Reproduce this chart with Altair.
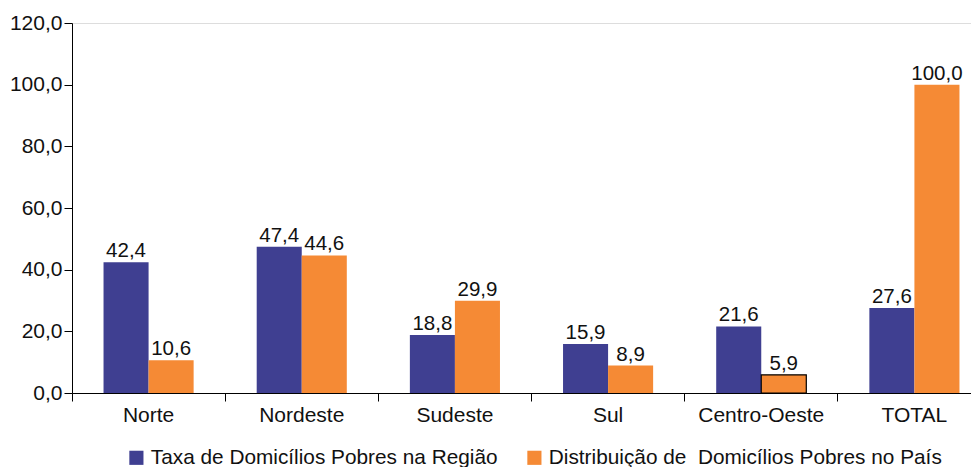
import altair as alt
import pandas as pd

regions = ["Norte", "Nordeste", "Sudeste", "Sul", "Centro-Oeste", "TOTAL"]
series_names = ["Taxa de Domicílios Pobres na Região", "Distribuição de\u00a0 Domicílios Pobres no País"]
taxa = [42.4, 47.4, 18.8, 15.9, 21.6, 27.6]
distrib = [10.6, 44.6, 29.9, 8.9, 5.9, 100.0]
colors = ["#3F3F91", "#F58A35"]

rows = []
for i, r in enumerate(regions):
    rows.append({"regiao": r, "serie": series_names[0], "valor": taxa[i], "ord": 0})
    rows.append({"regiao": r, "serie": series_names[1], "valor": distrib[i], "ord": 1})
df = pd.DataFrame(rows)
df["rotulo"] = df["valor"].map(lambda v: f"{v:.1f}".replace(".", ","))
df["outline"] = (df["regiao"] == "Centro-Oeste") & (df["ord"] == 1)

FONT = "Liberation Sans"

x = alt.X("regiao:N", sort=regions, title=None,
          scale=alt.Scale(paddingInner=0.0, paddingOuter=0.0, range=[0, 919]),
          axis=alt.Axis(labelAngle=0, labelFontSize=21, labelColor="#111", labelFont=FONT,
                        domainColor="#000", tickColor="#000", tickSize=8, bandPosition=0,
                        labelPadding=3))
xo = alt.XOffset("serie:N", sort=series_names,
                 scale=alt.Scale(paddingOuter=0.7, paddingInner=0.0))
y = alt.Y("valor:Q", title=None,
          scale=alt.Scale(domain=[0, 120]),
          axis=alt.Axis(values=[0, 20, 40, 60, 80, 100, 120], grid=False,
                        labelExpr="replace(format(datum.value, '.1f'), '.', ',')",
                        labelFontSize=21, labelColor="#111", labelFont=FONT,
                        domainColor="#000", tickColor="#000", tickSize=8, labelPadding=2))
color = alt.Color("serie:N", sort=series_names,
                  scale=alt.Scale(domain=series_names, range=colors),
                  legend=alt.Legend(title=None, orient="none", legendX=54, legendY=424,
                                    direction="horizontal",
                                    symbolType="square", symbolSize=200, symbolStrokeWidth=0,
                                    labelFontSize=20.8, labelFont=FONT, labelColor="#111",
                                    columnPadding=26, labelLimit=600))

bars = alt.Chart(df).mark_bar().encode(
    x=x, xOffset=xo, y=y, color=color,
    stroke=alt.condition("datum.outline", alt.value("#000"), alt.value(None)),
    strokeWidth=alt.condition("datum.outline", alt.value(1.2), alt.value(0)),
)
labels = alt.Chart(df).mark_text(baseline="alphabetic", dy=-5, fontSize=20.5, font=FONT, color="#111").encode(
    x=x, xOffset=xo, y=y, text="rotulo:N"
)

chart = (bars + labels).properties(
    width=899, height=370,
    autosize=alt.AutoSizeParams(type="none"),
    padding={"left": 64, "top": 15, "right": 0, "bottom": 74},
).configure_view(stroke=None).configure(background="white")

chart.save("out.html", embed_options={"renderer": "svg", "actions": False})
